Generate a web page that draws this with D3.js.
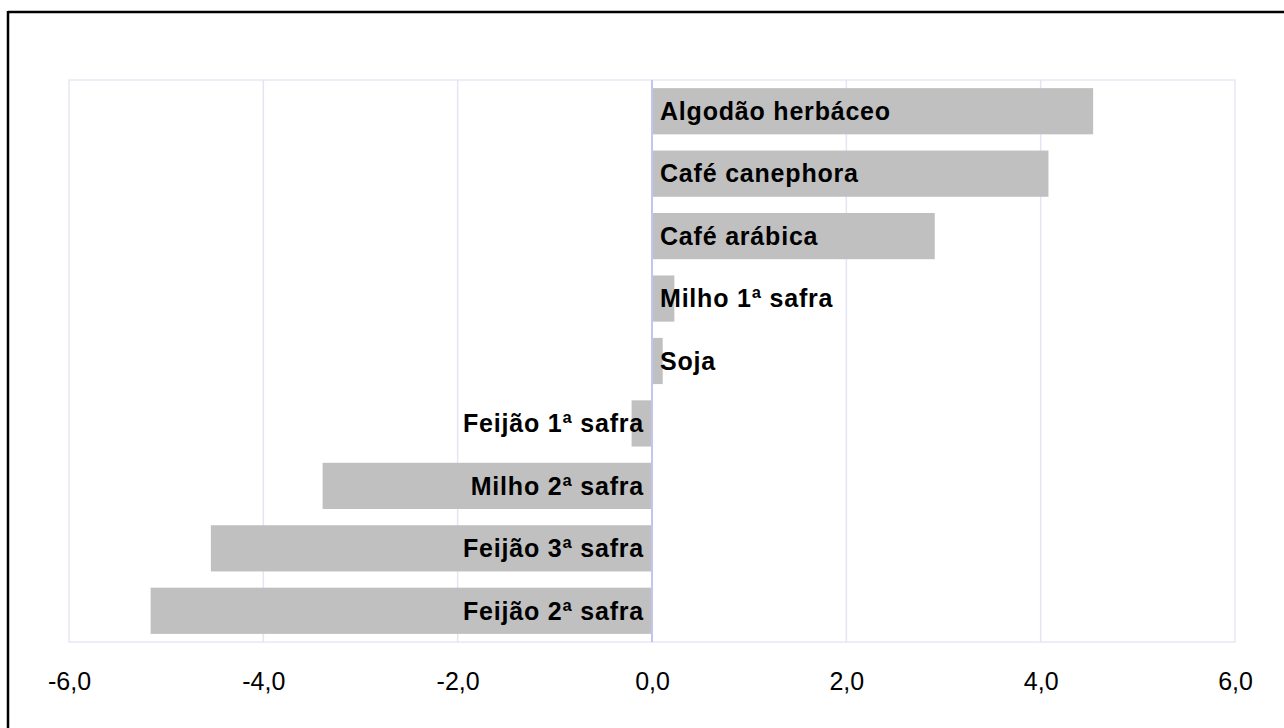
<!DOCTYPE html>
<html>
<head>
<meta charset="utf-8">
<script src="https://cdn.jsdelivr.net/npm/d3@7"></script>
<style>
  html, body { margin: 0; padding: 0; background: #fff; }
  svg { display: block; }
</style>
</head>
<body>
<svg id="chart" width="1284" height="728"></svg>
<script>
const categories = ["Algodão herbáceo", "Café canephora", "Café arábica", "Milho 1ª safra", "Soja",
  "Feijão 1ª safra", "Milho 2ª safra", "Feijão 3ª safra", "Feijão 2ª safra"];
const values = [4.54, 4.08, 2.91, 0.23, 0.11, -0.21, -3.39, -4.54, -5.16];
const tickValues = [-6, -4, -2, 0, 2, 4, 6];
const tickLabels = ["-6,0", "-4,0", "-2,0", "0,0", "2,0", "4,0", "6,0"];

const svg = d3.select("#chart");
const W = 1284, H = 728;
const plot = { left: 69, right: 1235, top: 80, bottom: 642 };

// frame (top and left edges)
svg.append("line").attr("x1", 8).attr("x2", W).attr("y1", 12).attr("y2", 12)
  .attr("stroke", "#000").attr("stroke-width", 2.5);
svg.append("line").attr("x1", 8).attr("x2", 8).attr("y1", 11).attr("y2", H)
  .attr("stroke", "#000").attr("stroke-width", 2.5);

const x = d3.scaleLinear().domain([-6, 6]).range([plot.left, plot.right]);
const y = d3.scaleBand().domain(categories).range([plot.top, plot.bottom]).paddingInner(0.26).paddingOuter(0.13);

// plot border
svg.append("rect").attr("x", plot.left).attr("y", plot.top)
  .attr("width", plot.right - plot.left).attr("height", plot.bottom - plot.top)
  .attr("fill", "none").attr("stroke", "#e8e8f6").attr("stroke-width", 1.5);

// gridlines
svg.append("g").selectAll("line").data(tickValues.filter(v => v !== 0 && v !== -6 && v !== 6)).join("line")
  .attr("x1", d => x(d)).attr("x2", d => x(d))
  .attr("y1", plot.top).attr("y2", plot.bottom)
  .attr("stroke", "#e4e4f6").attr("stroke-width", 1.5);

// bars
svg.append("g").selectAll("rect").data(categories).join("rect")
  .attr("x", (d, i) => x(Math.min(0, values[i])))
  .attr("y", d => y(d))
  .attr("width", (d, i) => Math.abs(x(values[i]) - x(0)))
  .attr("height", y.bandwidth())
  .attr("fill", "#c0c0c0");

// zero line
svg.append("line").attr("x1", x(0)).attr("x2", x(0)).attr("y1", plot.top).attr("y2", plot.bottom)
  .attr("stroke", "#c4c4f0").attr("stroke-width", 2);

// category labels
svg.append("g").selectAll("text").data(categories).join("text")
  .attr("x", (d, i) => values[i] >= 0 ? x(0) + 8 : x(0) - 8)
  .attr("y", d => y(d) + y.bandwidth() / 2)
  .attr("dy", "0.35em")
  .attr("text-anchor", (d, i) => values[i] >= 0 ? "start" : "end")
  .attr("font-family", "'Liberation Sans', Arial, sans-serif")
  .attr("font-weight", "bold")
  .attr("font-size", 25)
  .attr("letter-spacing", 0.8)
  .attr("fill", "#000")
  .text(d => d);

// x axis labels
const axis = d3.axisBottom(x).tickValues(tickValues).tickSize(0).tickPadding(0)
  .tickFormat((d, i) => tickLabels[i]);
const gAxis = svg.append("g").attr("transform", `translate(0, 690)`).call(axis);
gAxis.select(".domain").remove();
gAxis.selectAll("text")
  .attr("dy", 0)
  .attr("font-family", "'Liberation Sans', Arial, sans-serif")
  .attr("font-size", 25)
  .attr("fill", "#000");
</script>
</body>
</html>
